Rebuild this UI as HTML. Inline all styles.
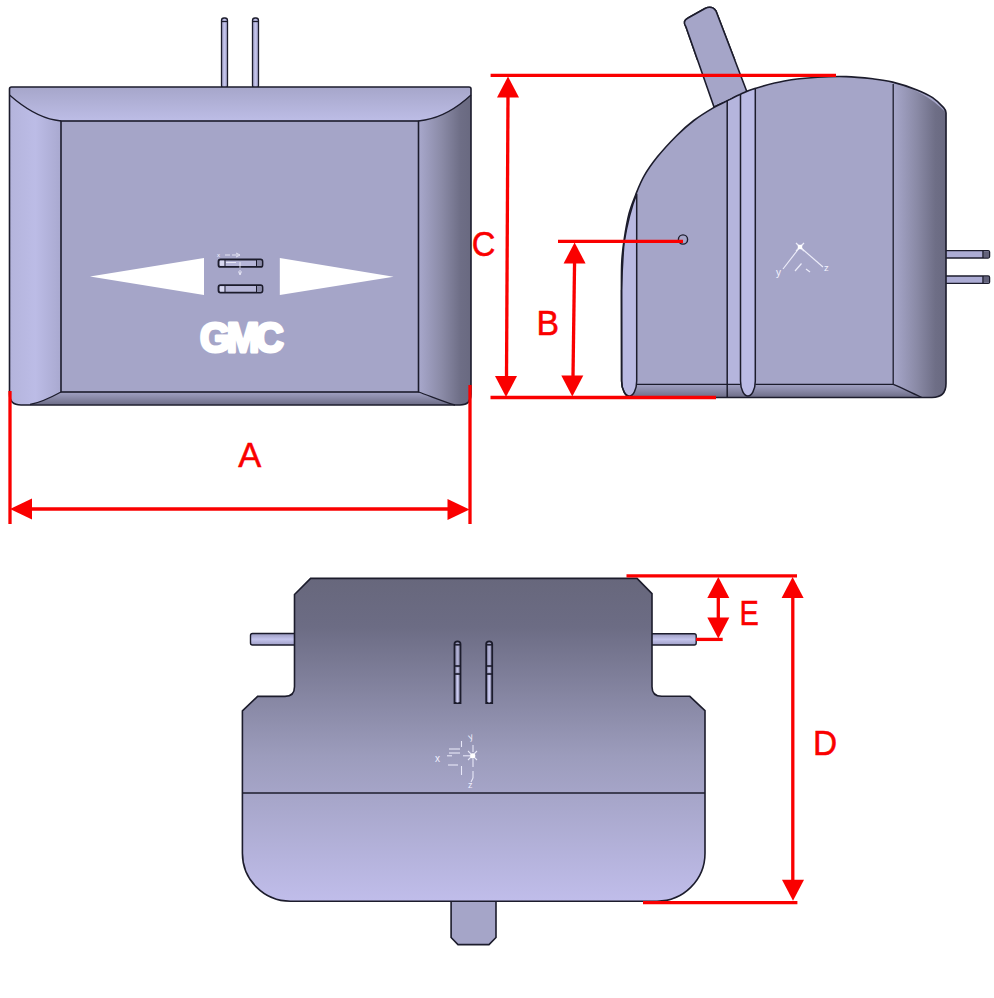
<!DOCTYPE html>
<html><head><meta charset="utf-8"><style>
html,body{margin:0;padding:0;background:#fff;overflow:hidden;}
svg{display:block;}
</style></head><body>
<svg width="994" height="998" viewBox="0 0 994 998">
<defs>
<linearGradient id="gTop" x1="0" y1="0" x2="0" y2="1"><stop offset="0" stop-color="#a6a6ca"/><stop offset="1" stop-color="#bdbde6"/></linearGradient>
<linearGradient id="gLeft" x1="0" y1="0" x2="1" y2="0"><stop offset="0" stop-color="#b4b4dc"/><stop offset="0.5" stop-color="#bcbce6"/><stop offset="1" stop-color="#a9a9d0"/></linearGradient>
<linearGradient id="gRight" x1="0" y1="0" x2="1" y2="0"><stop offset="0" stop-color="#a8a8cc"/><stop offset="0.45" stop-color="#8a8aa6"/><stop offset="0.8" stop-color="#6e6e86"/><stop offset="1" stop-color="#696980"/></linearGradient>
<linearGradient id="gBot" x1="0" y1="0" x2="0" y2="1"><stop offset="0" stop-color="#a2a2c4"/><stop offset="1" stop-color="#6c6c86"/></linearGradient>
<linearGradient id="gBotV" x1="0" y1="578" x2="0" y2="901" gradientUnits="userSpaceOnUse"><stop offset="0" stop-color="#67677c"/><stop offset="0.15" stop-color="#6c6c84"/><stop offset="0.55" stop-color="#9c9cbc"/><stop offset="1" stop-color="#c0bdea"/></linearGradient>
<linearGradient id="gPin" x1="0" y1="0" x2="1" y2="0"><stop offset="0" stop-color="#9a9ac0"/><stop offset="0.5" stop-color="#c4c4ec"/><stop offset="1" stop-color="#a0a0c8"/></linearGradient>
<linearGradient id="gPinH" x1="0" y1="0" x2="0" y2="1"><stop offset="0" stop-color="#9a9ac0"/><stop offset="0.5" stop-color="#c4c4ec"/><stop offset="1" stop-color="#a0a0c8"/></linearGradient>
</defs>
<rect x="221.5" y="18" width="6" height="70" rx="2.5" fill="url(#gPin)" stroke="#1c1c2c" stroke-width="1.3"/>
<line x1="221.5" y1="21.5" x2="227.5" y2="21.5" stroke="#1c1c2c" stroke-width="1.3"/>
<rect x="252.5" y="18" width="6" height="70" rx="2.5" fill="url(#gPin)" stroke="#1c1c2c" stroke-width="1.3"/>
<line x1="252.5" y1="21.5" x2="258.5" y2="21.5" stroke="#1c1c2c" stroke-width="1.3"/>
<path d="M11.5,87 L469,87 Q471,87 471,89 L471,394 Q471,405 460,405 L21,405 Q9.5,405 9.5,394 L9.5,89 Q9.5,87 11.5,87 Z" fill="#a5a5c8"/>
<path d="M9.5,95 C22,106 38,117 55,120 L61,121 L418.5,121 L425,120 C442,117 458,107 471,95 L471,89 Q471,87 469,87 L11.5,87 Q9.5,87 9.5,89 Z" fill="url(#gTop)"/>
<path d="M9.5,95 C22,106 38,117 55,120 L61,121 L61,392 C50,398 38,403 30,404.5 L21,405 Q9.5,405 9.5,394 Z" fill="url(#gLeft)"/>
<path d="M418.5,121 L425,120 C442,117 458,107 471,95 L471,394 Q471,405 460,405 L455,405 C444,402 430,396 418.5,392 Z" fill="url(#gRight)"/>
<path d="M61,392 L418.5,392 C430,396 444,402 455,405 L30,404.5 C38,403 50,398 61,392 Z" fill="url(#gBot)"/>
<rect x="61" y="121" width="357.5" height="271" fill="#a5a5c8" stroke="#1c1c2c" stroke-width="1.6"/>
<path d="M9.5,95 C22,106 38,117 55,120 L61,121" fill="none" stroke="#1c1c2c" stroke-width="1.3"/>
<path d="M418.5,121 L425,120 C442,117 458,107 471,95" fill="none" stroke="#1c1c2c" stroke-width="1.3"/>
<path d="M61,392 C50,398 38,403 30,404.5" fill="none" stroke="#1c1c2c" stroke-width="1.3"/>
<path d="M418.5,392 C430,396 444,402 455,405" fill="none" stroke="#1c1c2c" stroke-width="1.3"/>
<path d="M11.5,87 L469,87 Q471,87 471,89 L471,394 Q471,405 460,405 L21,405 Q9.5,405 9.5,394 L9.5,89 Q9.5,87 11.5,87 Z" fill="none" stroke="#1c1c2c" stroke-width="1.6"/>
<path d="M90,276.5 L204,258 L204,295 Z" fill="#fff"/>
<path d="M393.6,276.8 L279.8,258 L279.8,295 Z" fill="#fff"/>
<rect x="218.5" y="259.5" width="44" height="7.4" rx="2" fill="#b6b6d8" stroke="#1c1c2c" stroke-width="1.8"/>
<rect x="256.5" y="260.5" width="5" height="5.4" fill="#8a8aa8"/>
<line x1="256.5" y1="259.5" x2="256.5" y2="266.9" stroke="#1c1c2c" stroke-width="1"/>
<rect x="220" y="260.7" width="4.5" height="5" fill="#d8d8f0"/>
<line x1="225" y1="259.5" x2="225" y2="266.9" stroke="#1c1c2c" stroke-width="1"/>
<rect x="218.5" y="285.2" width="44" height="7.4" rx="2" fill="#b6b6d8" stroke="#1c1c2c" stroke-width="1.8"/>
<rect x="256.5" y="286.2" width="5" height="5.4" fill="#8a8aa8"/>
<line x1="256.5" y1="285.2" x2="256.5" y2="292.59999999999997" stroke="#1c1c2c" stroke-width="1"/>
<rect x="220" y="286.4" width="4.5" height="5" fill="#d8d8f0"/>
<line x1="225" y1="285.2" x2="225" y2="292.59999999999997" stroke="#1c1c2c" stroke-width="1"/>
<g stroke="#f4f4ff" stroke-width="0.9" fill="none" opacity="0.9"><line x1="225" y1="255" x2="230" y2="255"/><line x1="232" y1="255" x2="238" y2="255"/><path d="M236,253 L240,255 L236,257"/><line x1="240" y1="262" x2="240" y2="268"/><line x1="240" y1="270" x2="240" y2="274"/><path d="M238.5,271.5 L240,275 L241.5,271.5"/><line x1="226" y1="262.5" x2="236" y2="262.5"/></g>
<text x="217" y="256.5" font-family="Liberation Sans, sans-serif" font-size="6" fill="#f4f4ff">x</text>
<text x="0" y="0" font-family="Liberation Sans, sans-serif" font-weight="bold" font-size="42" letter-spacing="-4" fill="#fff" stroke="#fff" stroke-width="3.2" stroke-linejoin="round" transform="translate(200,351.5) scale(0.93,1)">GMC</text>
<path d="M686,27 Q682,21 688,18 L705,8.5 Q712,5 716,11 L747,92 L714,107 Z" fill="#a5a5c8" stroke="#1c1c2c" stroke-width="1.6" stroke-linejoin="round"/>
<rect x="944" y="250.6" width="45.6" height="7.4" rx="1.5" fill="#acacd4" stroke="#1c1c2c" stroke-width="1.3"/>
<rect x="983.5" y="251.4" width="5.5" height="5.8" fill="#62627a"/>
<line x1="983" y1="250.6" x2="983" y2="258.0" stroke="#1c1c2c" stroke-width="1.4"/>
<rect x="944" y="276" width="45.6" height="7.4" rx="1.5" fill="#acacd4" stroke="#1c1c2c" stroke-width="1.3"/>
<rect x="983.5" y="276.8" width="5.5" height="5.8" fill="#62627a"/>
<line x1="983" y1="276" x2="983" y2="283.4" stroke="#1c1c2c" stroke-width="1.4"/>
<path d="M629.4,397.5 L932,397.5 Q946,397.5 946,383.5 L946,113 C945.8,112.1 945.9,110.2 943.6,107.6 C941.3,105.0 937.0,100.5 932.6,97.6 C928.2,94.6 923.6,92.5 917.0,89.9 C910.4,87.3 900.1,83.9 892.7,82.1 C885.3,80.2 880.5,79.7 872.8,78.8 C865.0,77.9 855.4,76.8 846.2,76.6 C837.0,76.3 827.8,76.6 817.5,77.3 C807.2,78.0 794.6,79.2 784.3,81.0 C774.0,82.8 762.6,86.2 755.5,88.3 C748.4,90.4 746.3,91.6 741.4,93.8 C736.5,96.0 730.9,99.0 726.1,101.4 C721.3,103.8 718.2,104.9 712.8,108.1 C707.4,111.3 699.8,115.9 693.8,120.5 C687.8,125.1 682.6,129.7 676.6,135.7 C670.6,141.7 663.0,149.9 657.6,156.6 C652.2,163.3 647.9,169.3 644.3,175.7 C640.6,182.0 638.2,188.4 635.7,194.7 C633.2,201.0 630.9,206.4 629.0,213.7 C627.1,221.0 625.5,230.6 624.3,238.5 C623.1,246.4 622.3,252.7 621.8,261.3 C621.3,269.9 621.5,285.2 621.4,290.0 L621.6,381 C621.6,390 625.6,396.5 629.4,397 L630,397.5 Z" fill="#a5a5c8"/>
<path d="M892.7,82.1 C912,88 930,96 946.3,113 L946,383.5 Q946,397.5 932,397.5 L922,397.5 C912,393 902,388 893.2,384.4 Z" fill="url(#gRight)"/>
<path d="M630,384.4 L893.2,384.4 C902,388 912,393 922,397.5 L630,397.5 Z" fill="url(#gBot)"/>
<path d="M636.7,193.8 L636.7,381 C636.7,390 633,396 629.4,396 C625.8,396 621.6,390 621.6,381 L621.6,290 C622,270 623,255 624,243 C627,225 631,208 636.7,193.8 Z" fill="#b9b9e2" stroke="#1c1c2c" stroke-width="1.5"/>
<rect x="727.2" y="95" width="13.3" height="289.4" fill="#b5b5dd"/>
<path d="M740.5,92 L755.3,88 L755.3,381 C755.3,390 751.5,396 747.9,396 C744.3,396 740.5,390 740.5,381 Z" fill="#bbbbe5" stroke="#1c1c2c" stroke-width="1.5"/>
<path d="M946.3,113 C945.8,112.1 945.9,110.2 943.6,107.6 C941.3,105.0 937.0,100.5 932.6,97.6 C928.2,94.6 923.6,92.5 917.0,89.9 C910.4,87.3 900.1,83.9 892.7,82.1 C885.3,80.2 880.5,79.7 872.8,78.8 C865.0,77.9 855.4,76.8 846.2,76.6 C837.0,76.3 827.8,76.6 817.5,77.3 C807.2,78.0 794.6,79.2 784.3,81.0 C774.0,82.8 762.6,86.2 755.5,88.3 C748.4,90.4 746.3,91.6 741.4,93.8 C736.5,96.0 730.9,99.0 726.1,101.4 C721.3,103.8 718.2,104.9 712.8,108.1 C707.4,111.3 699.8,115.9 693.8,120.5 C687.8,125.1 682.6,129.7 676.6,135.7 C670.6,141.7 663.0,149.9 657.6,156.6 C652.2,163.3 647.9,169.3 644.3,175.7 C640.6,182.0 638.2,188.4 635.7,194.7 C633.2,201.0 630.9,206.4 629.0,213.7 C627.1,221.0 625.5,230.6 624.3,238.5 C623.1,246.4 622.3,252.7 621.8,261.3 C621.3,269.9 621.5,285.2 621.4,290.0 L621.4,290 L600,290 L600,60 L960,60 L960,113 Z" fill="#fff"/>
<clipPath id="abv"><path d="M946.3,113 C945.8,112.1 945.9,110.2 943.6,107.6 C941.3,105.0 937.0,100.5 932.6,97.6 C928.2,94.6 923.6,92.5 917.0,89.9 C910.4,87.3 900.1,83.9 892.7,82.1 C885.3,80.2 880.5,79.7 872.8,78.8 C865.0,77.9 855.4,76.8 846.2,76.6 C837.0,76.3 827.8,76.6 817.5,77.3 C807.2,78.0 794.6,79.2 784.3,81.0 C774.0,82.8 762.6,86.2 755.5,88.3 C748.4,90.4 746.3,91.6 741.4,93.8 C736.5,96.0 730.9,99.0 726.1,101.4 C721.3,103.8 718.2,104.9 712.8,108.1 C707.4,111.3 699.8,115.9 693.8,120.5 C687.8,125.1 682.6,129.7 676.6,135.7 C670.6,141.7 663.0,149.9 657.6,156.6 C652.2,163.3 647.9,169.3 644.3,175.7 C640.6,182.0 638.2,188.4 635.7,194.7 C633.2,201.0 630.9,206.4 629.0,213.7 C627.1,221.0 625.5,230.6 624.3,238.5 C623.1,246.4 622.3,252.7 621.8,261.3 C621.3,269.9 621.5,285.2 621.4,290.0 L621.4,290 L600,290 L600,0 L960,0 L960,113 Z"/></clipPath>
<path d="M686,27 Q682,21 688,18 L705,8.5 Q712,5 716,11 L747,92 L714,107 Z" fill="#a5a5c8" stroke="#1c1c2c" stroke-width="1.6" stroke-linejoin="round" clip-path="url(#abv)"/>
<line x1="727.2" y1="101" x2="727.2" y2="397.5" stroke="#1c1c2c" stroke-width="1.5"/>
<line x1="893.2" y1="84" x2="893.2" y2="384.4" stroke="#1c1c2c" stroke-width="1.3"/>
<line x1="636.7" y1="384.4" x2="740.5" y2="384.4" stroke="#1c1c2c" stroke-width="1.4"/>
<line x1="755.3" y1="384.4" x2="893.2" y2="384.4" stroke="#1c1c2c" stroke-width="1.4"/>
<path d="M893.2,384.4 C902,388 912,393 922,397.5" fill="none" stroke="#1c1c2c" stroke-width="1.3"/>
<path d="M629.4,397.5 L932,397.5 Q946,397.5 946,383.5 L946,113 C945.8,112.1 945.9,110.2 943.6,107.6 C941.3,105.0 937.0,100.5 932.6,97.6 C928.2,94.6 923.6,92.5 917.0,89.9 C910.4,87.3 900.1,83.9 892.7,82.1 C885.3,80.2 880.5,79.7 872.8,78.8 C865.0,77.9 855.4,76.8 846.2,76.6 C837.0,76.3 827.8,76.6 817.5,77.3 C807.2,78.0 794.6,79.2 784.3,81.0 C774.0,82.8 762.6,86.2 755.5,88.3 C748.4,90.4 746.3,91.6 741.4,93.8 C736.5,96.0 730.9,99.0 726.1,101.4 C721.3,103.8 718.2,104.9 712.8,108.1 C707.4,111.3 699.8,115.9 693.8,120.5 C687.8,125.1 682.6,129.7 676.6,135.7 C670.6,141.7 663.0,149.9 657.6,156.6 C652.2,163.3 647.9,169.3 644.3,175.7 C640.6,182.0 638.2,188.4 635.7,194.7 C633.2,201.0 630.9,206.4 629.0,213.7 C627.1,221.0 625.5,230.6 624.3,238.5 C623.1,246.4 622.3,252.7 621.8,261.3 C621.3,269.9 621.5,285.2 621.4,290.0 L621.6,381 C621.6,390 625.6,396.5 629.4,397 L630,397.5 Z" fill="none" stroke="#1c1c2c" stroke-width="1.6"/>
<circle cx="683" cy="239.5" r="4.6" fill="#a5a5c8" stroke="#1c1c2c" stroke-width="1.4"/>
<g stroke="#f4f4ff" stroke-width="1.2" fill="none" opacity="0.9"><line x1="800" y1="247" x2="783" y2="269"/><line x1="800" y1="247" x2="823" y2="267"/><line x1="795" y1="271" x2="801.5" y2="263.5"/><line x1="806" y1="269" x2="810" y2="272"/><line x1="796" y1="243" x2="804" y2="251"/><line x1="804" y1="243" x2="796" y2="251"/></g>
<rect x="797.8" y="244.8" width="4.4" height="4.4" fill="#fff"/>
<text x="776" y="276" font-family="Liberation Sans, sans-serif" font-size="10" fill="#f4f4ff">y</text>
<text x="824" y="270.5" font-family="Liberation Sans, sans-serif" font-size="9.5" fill="#f4f4ff">z</text>
<rect x="250.5" y="633.5" width="46" height="11.5" rx="2" fill="url(#gPinH)" stroke="#1c1c2c" stroke-width="1.4"/>
<rect x="650" y="633.8" width="46.2" height="11.2" rx="2" fill="url(#gPinH)" stroke="#1c1c2c" stroke-width="1.4"/>
<path d="M451.1,898 L496,898 L496,937.5 L489,944.6 L458,944.6 L451.1,937.5 Z" fill="#a5a5c8" stroke="#1c1c2c" stroke-width="1.6"/>
<path d="M310.6,578.4 L637,578.4 L652,593.7 L652,686.7 Q652,696.3 661.7,696.3 L689.8,696.3 L705,710.7 L705,853.2 A48,48 0 0 1 657,901.2 L290.4,901.2 A48,48 0 0 1 242.4,853.2 L242.4,710.8 L257.6,696.4 L285,696.4 Q294.5,696.4 294.5,686.7 L294.5,594.5 Z" fill="url(#gBotV)" stroke="#1c1c2c" stroke-width="1.6"/>
<line x1="242.4" y1="793" x2="705" y2="793" stroke="#1c1c2c" stroke-width="1.6"/>
<path d="M454.5,703 L454.5,644 Q454.5,641.3 457.5,641.3 Q460.5,641.3 460.5,644 L460.5,703 Z" fill="#9494b4" stroke="#1c1c2c" stroke-width="1.8"/>
<rect x="456.5" y="675" width="2" height="27.5" fill="#cacaf0"/>
<rect x="456.5" y="646" width="2" height="19" fill="#b0b0d4"/>
<rect x="456.5" y="667.5" width="2" height="5" fill="#c0c0e4"/>
<line x1="454.5" y1="666" x2="460.5" y2="666" stroke="#1c1c2c" stroke-width="1.6"/>
<line x1="454.5" y1="674" x2="460.5" y2="674" stroke="#1c1c2c" stroke-width="1.6"/>
<line x1="454.5" y1="644.8" x2="460.5" y2="644.8" stroke="#1c1c2c" stroke-width="1.5"/>
<path d="M486.2,703 L486.2,644 Q486.2,641.3 489.2,641.3 Q492.2,641.3 492.2,644 L492.2,703 Z" fill="#9494b4" stroke="#1c1c2c" stroke-width="1.8"/>
<rect x="488.2" y="675" width="2" height="27.5" fill="#cacaf0"/>
<rect x="488.2" y="646" width="2" height="19" fill="#b0b0d4"/>
<rect x="488.2" y="667.5" width="2" height="5" fill="#c0c0e4"/>
<line x1="486.2" y1="666" x2="492.2" y2="666" stroke="#1c1c2c" stroke-width="1.6"/>
<line x1="486.2" y1="674" x2="492.2" y2="674" stroke="#1c1c2c" stroke-width="1.6"/>
<line x1="486.2" y1="644.8" x2="492.2" y2="644.8" stroke="#1c1c2c" stroke-width="1.5"/>
<g stroke="#f0f0ff" stroke-width="1.1" fill="none" opacity="0.9"><line x1="473" y1="745" x2="473" y2="752"/><line x1="473" y1="759" x2="473" y2="767"/><line x1="473" y1="771" x2="473" y2="778"/><line x1="473" y1="778" x2="471" y2="782"/><line x1="447" y1="755.8" x2="452" y2="755.8"/><line x1="449" y1="749" x2="460" y2="749"/><line x1="449" y1="753" x2="460" y2="753"/><line x1="463" y1="755.8" x2="470" y2="755.8"/><line x1="448" y1="765" x2="458" y2="765"/><line x1="461.5" y1="741" x2="461.5" y2="747"/><line x1="461.5" y1="766" x2="461.5" y2="775"/><line x1="468" y1="751" x2="477" y2="760"/><line x1="477" y1="751" x2="468" y2="760"/></g>
<circle cx="472.7" cy="755.8" r="2.6" fill="#fff"/>
<text x="435" y="762" font-family="Liberation Sans, sans-serif" font-size="10" fill="#f0f0ff">x</text>
<text x="468" y="739" font-family="Liberation Sans, sans-serif" font-size="9" fill="#f0f0ff" transform="rotate(-20 472 735)">y</text>
<text x="468" y="788" font-family="Liberation Sans, sans-serif" font-size="9" fill="#f0f0ff">z</text>
<line x1="10" y1="391" x2="10" y2="524" stroke="#fa0000" stroke-width="3.3"/>
<line x1="470" y1="385" x2="470" y2="524" stroke="#fa0000" stroke-width="3.3"/>
<line x1="28" y1="509" x2="452" y2="509" stroke="#fa0000" stroke-width="3.3"/>
<path d="M10,509 L32,498.5 L32,519.5 Z" fill="#fa0000"/>
<path d="M469.5,509.5 L447.5,499.0 L447.5,520.0 Z" fill="#fa0000"/>
<line x1="490.6" y1="75.3" x2="836" y2="75.3" stroke="#fa0000" stroke-width="3.3"/>
<line x1="508" y1="95" x2="506.5" y2="377" stroke="#fa0000" stroke-width="3.3"/>
<path d="M508,76.5 L519.0,97.5 L497.0,97.5 Z" fill="#fa0000"/>
<path d="M506,397 L517.0,376 L495.0,376 Z" fill="#fa0000"/>
<line x1="490.5" y1="397.5" x2="716" y2="397.5" stroke="#fa0000" stroke-width="3.3"/>
<line x1="558" y1="241.3" x2="683" y2="241.3" stroke="#fa0000" stroke-width="3.3"/>
<line x1="574.6" y1="260" x2="573" y2="377" stroke="#fa0000" stroke-width="3.3"/>
<path d="M574.6,242.5 L585.6,263.5 L563.6,263.5 Z" fill="#fa0000"/>
<path d="M572.3,396.5 L583.3,375.5 L561.3,375.5 Z" fill="#fa0000"/>
<line x1="626.5" y1="575.8" x2="797" y2="575.8" stroke="#fa0000" stroke-width="3.3"/>
<line x1="718.3" y1="596" x2="718.3" y2="620" stroke="#fa0000" stroke-width="3.3"/>
<path d="M718.3,577 L729.3,598 L707.3,598 Z" fill="#fa0000"/>
<path d="M718.3,638.6 L729.3,617.6 L707.3,617.6 Z" fill="#fa0000"/>
<line x1="696" y1="639.4" x2="722.7" y2="639.4" stroke="#fa0000" stroke-width="3.3"/>
<line x1="792.8" y1="596" x2="792.8" y2="882" stroke="#fa0000" stroke-width="3.3"/>
<path d="M792.6,577 L803.6,598 L781.6,598 Z" fill="#fa0000"/>
<path d="M793,900.7 L804.0,879.7 L782.0,879.7 Z" fill="#fa0000"/>
<line x1="643" y1="902.6" x2="797.4" y2="902.6" stroke="#fa0000" stroke-width="3.3"/>
<text x="0" y="0" transform="translate(238.3,466.5) scale(1.0,1)" font-family="Liberation Sans, sans-serif" font-size="34.5" fill="#fa0000" stroke="#fa0000" stroke-width="0.5">A</text>
<text x="0" y="0" transform="translate(471.8,255.5) scale(0.95,1)" font-family="Liberation Sans, sans-serif" font-size="34.5" fill="#fa0000" stroke="#fa0000" stroke-width="0.5">C</text>
<text x="0" y="0" transform="translate(536.5,334.5) scale(0.98,1)" font-family="Liberation Sans, sans-serif" font-size="34.5" fill="#fa0000" stroke="#fa0000" stroke-width="0.5">B</text>
<text x="0" y="0" transform="translate(739.5,625.3) scale(0.84,1)" font-family="Liberation Sans, sans-serif" font-size="34.5" fill="#fa0000" stroke="#fa0000" stroke-width="0.5">E</text>
<text x="0" y="0" transform="translate(813,754.5) scale(0.97,1)" font-family="Liberation Sans, sans-serif" font-size="34.5" fill="#fa0000" stroke="#fa0000" stroke-width="0.5">D</text>
</svg>
</body></html>
